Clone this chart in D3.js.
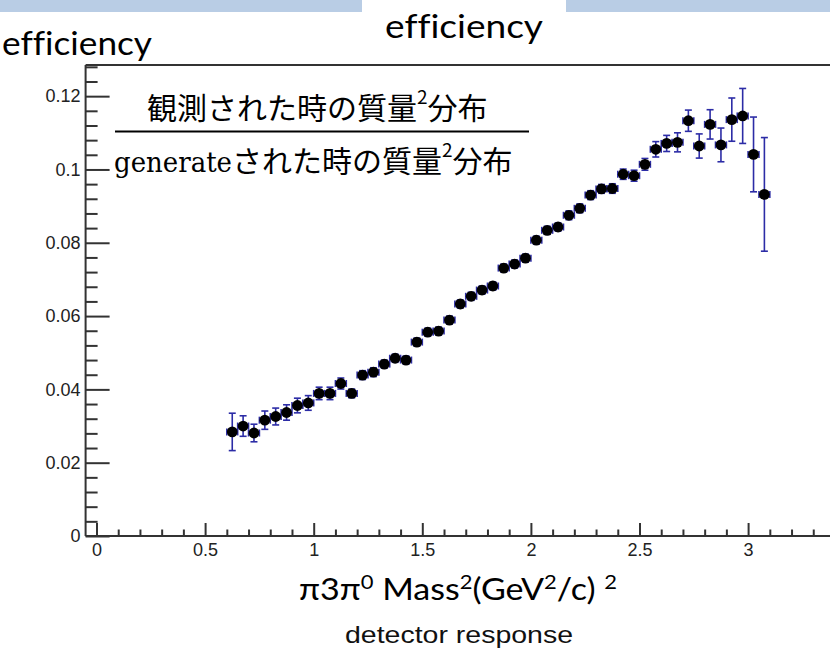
<!DOCTYPE html>
<html>
<head>
<meta charset="utf-8">
<script src="https://cdn.jsdelivr.net/npm/d3@7"></script>
<style>
  html, body { margin: 0; padding: 0; background: #fff; }
  svg { display: block; }
  text { font-variant-ligatures: none; font-feature-settings: "liga" 0; }
</style>
</head>
<body>
<svg id="chart" width="830" height="654"></svg>
<script>
// Bin centres of the pi 3pi0 mass^2 histogram (GeV^2/c^2)^2
const binCenters = [
  0.625, 0.675, 0.725, 0.775, 0.825, 0.875, 0.925, 0.975,
  1.025, 1.075, 1.125, 1.175, 1.225, 1.275, 1.325, 1.375,
  1.425, 1.475, 1.525, 1.575, 1.625, 1.675, 1.725, 1.775,
  1.825, 1.875, 1.925, 1.975, 2.025, 2.075, 2.125, 2.175,
  2.225, 2.275, 2.325, 2.375, 2.425, 2.475, 2.525, 2.575,
  2.625, 2.675, 2.725, 2.775, 2.825, 2.875, 2.925, 2.975,
  3.025, 3.075
];
const binHalfWidth = 0.025;

// Efficiency = observed / generated, per bin
const efficiency = [
  0.0284, 0.0300, 0.0281, 0.0316, 0.0326, 0.0337, 0.0356, 0.0363,
  0.0389, 0.0389, 0.0416, 0.0389, 0.0439, 0.0447, 0.0469, 0.0485,
  0.0480, 0.0529, 0.0556, 0.0559, 0.0589, 0.0633, 0.0654, 0.0671,
  0.0682, 0.0731, 0.0742, 0.0758, 0.0807, 0.0834, 0.0843, 0.0875,
  0.0894, 0.0930, 0.0947, 0.0948, 0.0987, 0.0983, 0.1014, 0.1055,
  0.1071, 0.1074, 0.1133, 0.1064, 0.1123, 0.1067, 0.1136, 0.1146,
  0.1041, 0.0932
];

// Statistical error on the efficiency, per bin
const efficiencyErr = [
  0.0051, 0.0028, 0.0024, 0.0025, 0.0023, 0.0021, 0.0020, 0.0020,
  0.0017, 0.0017, 0.0015, 0.0012, 0.0012, 0.0012, 0.0011, 0.0011,
  0.0011, 0.0011, 0.0011, 0.0011, 0.0011, 0.0011, 0.0011, 0.0011,
  0.0011, 0.0011, 0.0011, 0.0011, 0.0011, 0.0011, 0.0011, 0.0012,
  0.0012, 0.0012, 0.0012, 0.0013, 0.0014, 0.0015, 0.0016, 0.0021,
  0.0022, 0.0026, 0.0029, 0.0033, 0.0040, 0.0046, 0.0059, 0.0075,
  0.0102, 0.0155
];

const xTicksMajor = [0, 0.5, 1, 1.5, 2, 2.5, 3, 3.5];
const yTicksMajor = [0, 0.02, 0.04, 0.06, 0.08, 0.1, 0.12];
const xTickLabels = ["0", "0.5", "1", "1.5", "2", "2.5", "3", ""];
const yTickLabels = ["0", "0.02", "0.04", "0.06", "0.08", "0.1", "0.12"];

const svg = d3.select("#chart");

const frame = { left: 85.6, top: 65, bottom: 536 };
const pxPerUnit = 217.2;
const x0 = 96.5;
const xDomain = [-0.05, 3.5];
const x = d3.scaleLinear()
  .domain(xDomain)
  .range([x0 + xDomain[0] * pxPerUnit, x0 + xDomain[1] * pxPerUnit]);
const y = d3.scaleLinear()
  .domain([0, 0.1285])
  .range([frame.bottom, frame.top]);

const axisColor = "#333";
const labelFont = "'Liberation Sans', Arial, sans-serif";
const titleFont = "Lato, 'Open Sans', sans-serif";

// Slide header bands
svg.append("rect").attr("x", 0).attr("y", 0).attr("width", 362).attr("height", 12).attr("fill", "#b9cde5");
svg.append("rect").attr("x", 566).attr("y", 0).attr("width", 264).attr("height", 12).attr("fill", "#b9cde5");

// Titles
svg.append("text")
  .attr("x", 385).attr("y", 38)
  .attr("font-family", titleFont)
  .attr("font-size", 33)
  .attr("textLength", 158).attr("lengthAdjust", "spacingAndGlyphs")
  .attr("fill", "#000")
  .text("efficiency");

svg.append("text")
  .attr("x", 2).attr("y", 55)
  .attr("font-family", titleFont)
  .attr("font-size", 32)
  .attr("textLength", 150).attr("lengthAdjust", "spacingAndGlyphs")
  .attr("fill", "#000")
  .text("efficiency");

// Frame: top border, left and bottom axes
const xRight = x(xDomain[1]);
svg.append("line")
  .attr("x1", frame.left).attr("x2", xRight)
  .attr("y1", frame.top).attr("y2", frame.top)
  .attr("stroke", axisColor).attr("stroke-width", 2);

// X axis with major ticks (labels) and minor ticks, drawn inward
const xMinor = d3.range(0, 35).map(i => +(i * 0.1).toFixed(2)).filter(v => Math.abs(v * 2 - Math.round(v * 2)) > 1e-6);
const xAxisMajor = d3.axisTop(x)
  .tickValues(xTicksMajor)
  .tickSize(13)
  .tickFormat((d, i) => xTickLabels[i]);
const gx = svg.append("g").attr("transform", `translate(0,${frame.bottom})`).call(xAxisMajor);
gx.select(".domain").remove();
gx.selectAll(".tick line").attr("stroke", axisColor).attr("stroke-width", 2);
gx.selectAll(".tick text")
  .attr("y", 0).attr("dy", 0)
  .attr("transform", "translate(0,20)")
  .attr("font-family", labelFont)
  .attr("font-size", 18)
  .attr("fill", "#222");

const gxMinor = svg.append("g").attr("transform", `translate(0,${frame.bottom})`)
  .call(d3.axisTop(x).tickValues(xMinor).tickSize(6.5).tickFormat(""));
gxMinor.select(".domain").remove();
gxMinor.selectAll(".tick line").attr("stroke", axisColor).attr("stroke-width", 2);

svg.append("line")
  .attr("x1", frame.left).attr("x2", xRight)
  .attr("y1", frame.bottom).attr("y2", frame.bottom)
  .attr("stroke", axisColor).attr("stroke-width", 2);

// Y axis with major and minor ticks, drawn inward
const yMinor = d3.range(1, 33).map(i => +(i * 0.004).toFixed(3)).filter(v => v < 0.1285 && Math.abs(v / 0.02 - Math.round(v / 0.02)) > 1e-6);
const gy = svg.append("g").attr("transform", `translate(${frame.left},0)`)
  .call(d3.axisRight(y).tickValues(yTicksMajor).tickSize(24).tickFormat((d, i) => yTickLabels[i]));
gy.select(".domain").remove();
gy.selectAll(".tick line").attr("stroke", axisColor).attr("stroke-width", 2);
gy.selectAll(".tick text")
  .attr("x", -5).attr("text-anchor", "end")
  .attr("font-family", labelFont)
  .attr("font-size", 18)
  .attr("fill", "#222");

const gyMinor = svg.append("g").attr("transform", `translate(${frame.left},0)`)
  .call(d3.axisRight(y).tickValues(yMinor).tickSize(12).tickFormat(""));
gyMinor.select(".domain").remove();
gyMinor.selectAll(".tick line").attr("stroke", axisColor).attr("stroke-width", 2);

svg.append("line")
  .attr("x1", frame.left).attr("x2", frame.left)
  .attr("y1", frame.top).attr("y2", frame.bottom)
  .attr("stroke", axisColor).attr("stroke-width", 2);

// Data: error bars and markers
const points = binCenters.map((c, i) => ({ c, v: efficiency[i], e: efficiencyErr[i] }));
const errColor = "#2c2ca6";
const capHalf = 3.5;
const gPts = svg.append("g");

const eb = gPts.selectAll("g.eb").data(points).join("g").attr("class", "eb")
  .attr("stroke", errColor).attr("stroke-width", 1.6).attr("fill", "none");
// vertical error
eb.append("line")
  .attr("x1", d => x(d.c)).attr("x2", d => x(d.c))
  .attr("y1", d => y(d.v - d.e)).attr("y2", d => y(d.v + d.e));
eb.append("line")
  .attr("x1", d => x(d.c) - capHalf).attr("x2", d => x(d.c) + capHalf)
  .attr("y1", d => y(d.v + d.e)).attr("y2", d => y(d.v + d.e));
eb.append("line")
  .attr("x1", d => x(d.c) - capHalf).attr("x2", d => x(d.c) + capHalf)
  .attr("y1", d => y(d.v - d.e)).attr("y2", d => y(d.v - d.e));
// horizontal (bin width) error
eb.append("line")
  .attr("x1", d => x(d.c - binHalfWidth)).attr("x2", d => x(d.c + binHalfWidth))
  .attr("y1", d => y(d.v)).attr("y2", d => y(d.v));
eb.append("line")
  .attr("x1", d => x(d.c - binHalfWidth)).attr("x2", d => x(d.c - binHalfWidth))
  .attr("y1", d => y(d.v) - capHalf).attr("y2", d => y(d.v) + capHalf);
eb.append("line")
  .attr("x1", d => x(d.c + binHalfWidth)).attr("x2", d => x(d.c + binHalfWidth))
  .attr("y1", d => y(d.v) - capHalf).attr("y2", d => y(d.v) + capHalf);

gPts.selectAll("circle").data(points).join("circle")
  .attr("cx", d => x(d.c)).attr("cy", d => y(d.v))
  .attr("r", 5.4).attr("fill", "#000");

// Fraction annotation: observed / generated mass^2 distribution
const jpFont = "'Noto Sans CJK JP', sans-serif";
const num = svg.append("text")
  .attr("x", 147).attr("y", 119)
  .attr("font-family", jpFont)
  .attr("font-size", 30)
  .attr("fill", "#000");
num.append("tspan").text("観測された時の質量");
num.append("tspan").attr("font-size", 19).attr("dy", -15).text("2");
num.append("tspan").attr("dy", 15).text("分布");

svg.append("line")
  .attr("x1", 115).attr("x2", 529)
  .attr("y1", 131.5).attr("y2", 131.5)
  .attr("stroke", "#000").attr("stroke-width", 2);

const den = svg.append("text")
  .attr("x", 114).attr("y", 172)
  .attr("font-family", jpFont)
  .attr("font-size", 30)
  .attr("fill", "#000");
den.append("tspan").attr("font-family", "'DejaVu Serif', 'Liberation Serif', serif").attr("font-size", 27).attr("textLength", 118).attr("lengthAdjust", "spacingAndGlyphs").text("generate");
den.append("tspan").text("された時の質量");
den.append("tspan").attr("font-size", 19).attr("dy", -15).text("2");
den.append("tspan").attr("dy", 15).text("分布");

// Axis titles
const xt = svg.append("text")
  .attr("x", 299).attr("y", 600)
  .attr("font-family", titleFont)
  .attr("font-size", 31)
  .attr("textLength", 318).attr("lengthAdjust", "spacingAndGlyphs")
  .attr("fill", "#000");
xt.append("tspan").text("π3π");
xt.append("tspan").attr("font-size", 20).attr("dy", -11).text("0");
xt.append("tspan").attr("dy", 11).text(" Mass");
xt.append("tspan").attr("font-size", 20).attr("dy", -11).text("2");
xt.append("tspan").attr("dy", 11).text("(GeV");
xt.append("tspan").attr("font-size", 20).attr("dy", -11).text("2");
xt.append("tspan").attr("dy", 11).text("/c) ");
xt.append("tspan").attr("font-size", 20).attr("dy", -11).text("2");

svg.append("text")
  .attr("x", 345).attr("y", 643)
  .attr("font-family", labelFont)
  .attr("font-size", 24)
  .attr("textLength", 228).attr("lengthAdjust", "spacingAndGlyphs")
  .attr("fill", "#111")
  .text("detector response");
</script>
</body>
</html>
